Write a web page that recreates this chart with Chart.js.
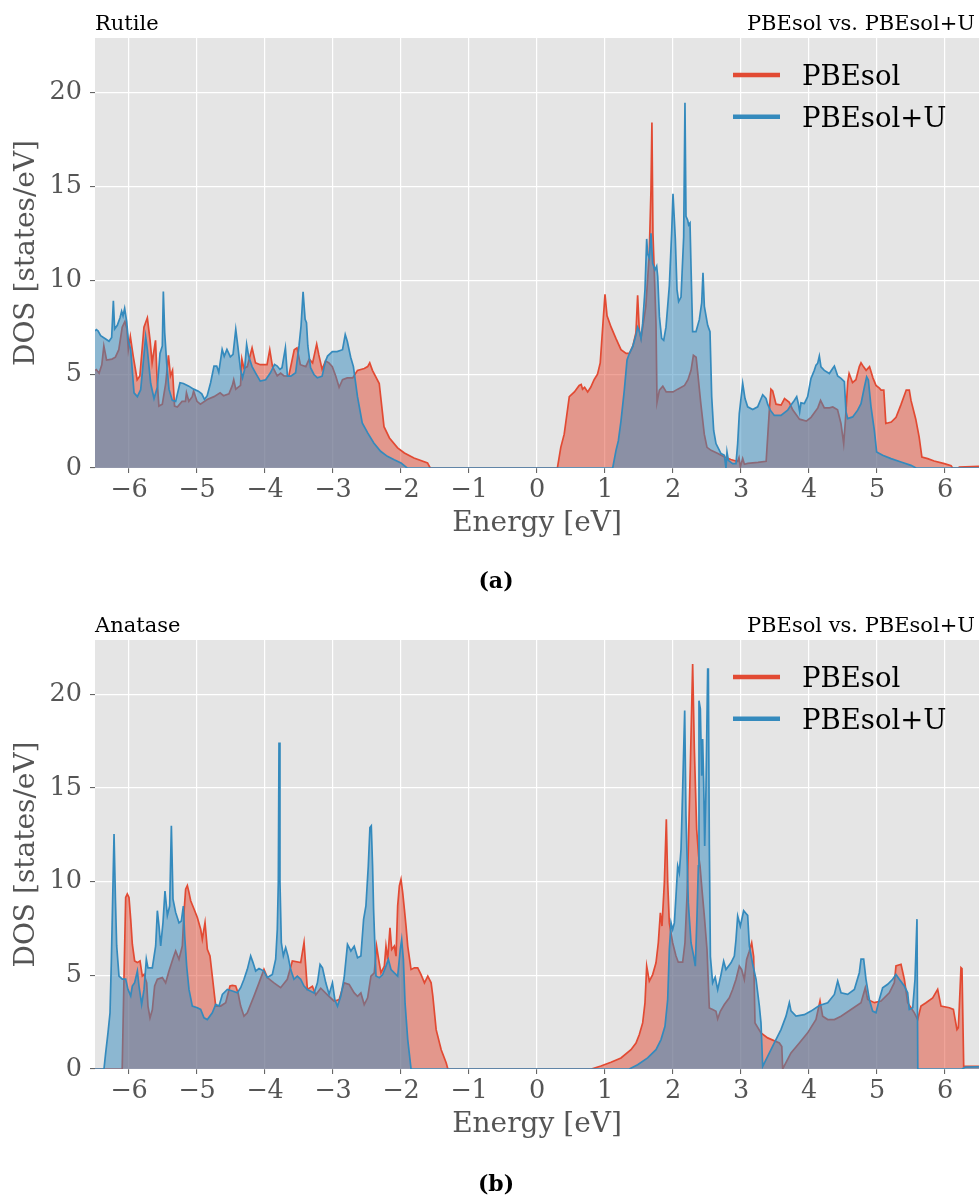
<!DOCTYPE html>
<html>
<head>
<meta charset="utf-8">
<title>TiO2 DOS: PBEsol vs. PBEsol+U</title>
<script src="https://cdn.jsdelivr.net/npm/chart.js@4.4.1/dist/chart.umd.min.js"></script>
<style>
  html, body { margin: 0; padding: 0; background: #fff; overflow: hidden; }
  canvas { display: block; }
</style>
</head>
<body>
<canvas id="rutile" width="979" height="600"></canvas>
<canvas id="anatase" width="979" height="599"></canvas>
<script>
// Axis ticks
const energyTicks = [-6, -5, -4, -3, -2, -1, 0, 1, 2, 3, 4, 5, 6];
const dosTicks = [0, 5, 10, 15, 20];

// Rutile, PBEsol  [energy (eV), DOS (states/eV)]
const rutilePbesol = [
  [-6.50, 5.2], [-6.48, 5.24], [-6.44, 5.05], [-6.40, 5.5], [-6.37, 6.5], [-6.33, 5.75],
  [-6.25, 5.8], [-6.20, 5.9], [-6.15, 6.3], [-6.10, 7.5], [-6.06, 7.8], [-6.03, 7.4],
  [-6.01, 6.3], [-5.98, 7.0], [-5.94, 6.0], [-5.88, 4.7], [-5.84, 4.9], [-5.78, 7.5],
  [-5.73, 8.0], [-5.69, 6.8], [-5.66, 5.6], [-5.61, 6.8], [-5.585, 4.6], [-5.56, 3.3],
  [-5.51, 3.4], [-5.46, 4.5], [-5.42, 6.0], [-5.39, 4.9], [-5.36, 5.2], [-5.33, 3.3],
  [-5.29, 3.25], [-5.22, 3.55], [-5.17, 3.55], [-5.155, 4.0], [-5.12, 3.55], [-5.07, 3.8],
  [-5.05, 4.1], [-5.00, 3.55], [-4.95, 3.4], [-4.85, 3.65], [-4.75, 3.8], [-4.66, 4.0],
  [-4.61, 3.85], [-4.53, 3.95], [-4.48, 4.4], [-4.46, 4.7], [-4.43, 4.2], [-4.36, 4.4],
  [-4.34, 5.8], [-4.31, 5.3], [-4.26, 5.4], [-4.19, 6.4], [-4.14, 5.6], [-4.07, 5.5],
  [-3.97, 5.5], [-3.93, 6.3], [-3.89, 5.4], [-3.82, 4.9], [-3.77, 5.05], [-3.72, 4.9],
  [-3.65, 4.9], [-3.57, 6.3], [-3.53, 6.4], [-3.48, 5.5], [-3.40, 5.4], [-3.35, 5.8],
  [-3.30, 5.6], [-3.24, 6.6], [-3.21, 6.05], [-3.16, 5.25], [-3.11, 5.7], [-3.06, 5.6],
  [-3.01, 5.4], [-2.96, 4.9], [-2.91, 4.3], [-2.86, 4.7], [-2.79, 4.8], [-2.71, 4.8],
  [-2.64, 5.2], [-2.54, 5.3], [-2.49, 5.4], [-2.46, 5.6], [-2.42, 5.2], [-2.32, 4.5],
  [-2.25, 2.2], [-2.17, 1.6], [-2.05, 1.07], [-1.95, 0.8], [-1.81, 0.53], [-1.61, 0.27],
  [-1.57, 0], [0.30, 0], [0.35, 1.1], [0.40, 1.8], [0.475, 3.8], [0.55, 4.05],
  [0.62, 4.4], [0.65, 4.45], [0.67, 4.2], [0.70, 4.3], [0.745, 4.05], [0.79, 4.3],
  [0.84, 4.7], [0.89, 5.0], [0.93, 5.6], [0.97, 7.7], [1.00, 9.25], [1.03, 8.1],
  [1.09, 7.5], [1.16, 6.9], [1.235, 6.3], [1.31, 6.1], [1.36, 6.1], [1.41, 6.5],
  [1.455, 7.2], [1.48, 9.2], [1.505, 7.3], [1.53, 6.9], [1.60, 8.6], [1.65, 11.3],
  [1.676, 14.8], [1.69, 18.4], [1.705, 12.5], [1.725, 10.4], [1.75, 7.7], [1.765, 3.5],
  [1.80, 4.15], [1.85, 4.36], [1.90, 4.05], [2.00, 4.05], [2.07, 4.2], [2.17, 4.4],
  [2.22, 4.7], [2.265, 5.2], [2.30, 6.0], [2.34, 5.9], [2.36, 5.2], [2.41, 3.4],
  [2.46, 1.8], [2.50, 1.1], [2.56, 0.94], [2.66, 0.77], [2.75, 0.6], [2.85, 0.45],
  [2.90, 0.4], [2.95, 0.35], [2.97, 0.55], [2.99, 0.05], [3.025, 0.5], [3.05, 0.2],
  [3.10, 0.25], [3.25, 0.3], [3.37, 0.36], [3.417, 3.08], [3.44, 4.2], [3.466, 4.1],
  [3.515, 3.4], [3.59, 3.35], [3.64, 3.7], [3.71, 3.5], [3.76, 3.1], [3.86, 2.6],
  [3.96, 2.5], [4.03, 2.7], [4.13, 3.2], [4.17, 3.6], [4.225, 3.2], [4.30, 3.2],
  [4.35, 3.25], [4.42, 3.1], [4.47, 2.37], [4.51, 1.3], [4.535, 2.5], [4.57, 4.6],
  [4.59, 5.03], [4.64, 4.55], [4.69, 4.7], [4.74, 5.4], [4.765, 5.6], [4.80, 5.4],
  [4.84, 5.2], [4.89, 5.4], [4.94, 4.8], [4.985, 4.4], [5.035, 4.25], [5.06, 4.15],
  [5.10, 4.15], [5.13, 2.37], [5.21, 2.45], [5.28, 2.7], [5.35, 3.35], [5.43, 4.15],
  [5.475, 4.15], [5.50, 3.6], [5.57, 2.6], [5.62, 1.65], [5.66, 0.58], [5.745, 0.5],
  [5.84, 0.37], [5.99, 0.23], [6.09, 0.12], [6.11, 0], [6.20, 0], [6.21, 0.05], [6.50, 0.09]
];

// Rutile, PBEsol+U
const rutilePbesolU = [
  [-6.50, 7.3], [-6.48, 7.37], [-6.456, 7.3], [-6.417, 7.05], [-6.343, 6.87], [-6.294, 6.75],
  [-6.255, 6.95], [-6.23, 8.9], [-6.211, 7.4], [-6.172, 7.6], [-6.132, 8.0], [-6.108, 8.35],
  [-6.088, 8.1], [-6.064, 8.5], [-6.034, 7.8], [-6.01, 6.8], [-5.975, 6.3], [-5.926, 4.0],
  [-5.877, 3.8], [-5.828, 4.17], [-5.755, 7.0], [-5.73, 6.3], [-5.681, 4.5], [-5.632, 3.7],
  [-5.583, 4.3], [-5.544, 6.1], [-5.51, 6.5], [-5.495, 9.4], [-5.475, 7.2], [-5.446, 5.6],
  [-5.412, 4.2], [-5.363, 3.6], [-5.314, 3.55], [-5.25, 4.54], [-5.20, 4.5], [-5.12, 4.36],
  [-5.05, 4.2], [-4.98, 4.09], [-4.93, 3.95], [-4.89, 3.65], [-4.85, 3.85], [-4.80, 4.54],
  [-4.75, 5.43], [-4.71, 5.43], [-4.68, 5.1], [-4.63, 6.32], [-4.60, 5.95], [-4.56, 6.32],
  [-4.51, 5.92], [-4.47, 6.05], [-4.43, 7.38], [-4.40, 6.5], [-4.36, 5.25], [-4.33, 4.8],
  [-4.30, 5.25], [-4.27, 6.58], [-4.24, 5.95], [-4.19, 5.4], [-4.14, 5.07], [-4.07, 4.63],
  [-3.99, 4.7], [-3.92, 5.07], [-3.86, 5.52], [-3.82, 5.43], [-3.78, 5.25], [-3.75, 5.34],
  [-3.70, 6.4], [-3.67, 4.89], [-3.62, 4.89], [-3.55, 5.07], [-3.50, 6.5], [-3.47, 7.56],
  [-3.44, 9.38], [-3.41, 7.92], [-3.39, 7.74], [-3.37, 6.5], [-3.33, 5.34], [-3.28, 4.98],
  [-3.23, 4.8], [-3.16, 4.89], [-3.11, 5.7], [-3.08, 5.96], [-3.01, 6.2], [-2.94, 6.2],
  [-2.86, 6.3], [-2.82, 7.1], [-2.79, 6.75], [-2.74, 5.9], [-2.70, 5.4], [-2.64, 3.8],
  [-2.57, 2.4], [-2.49, 1.87], [-2.40, 1.33], [-2.30, 0.89], [-2.20, 0.62], [-2.10, 0.44],
  [-2.00, 0.27], [-1.91, 0], [1.113, 0], [1.162, 0.94], [1.196, 1.44], [1.235, 2.5],
  [1.284, 4.15], [1.324, 5.75], [1.358, 6.1], [1.407, 6.46], [1.456, 7.1], [1.48, 7.5],
  [1.505, 7.3], [1.529, 6.9], [1.554, 7.7], [1.588, 9.5], [1.613, 12.2], [1.627, 11.4],
  [1.652, 11.2], [1.676, 12.5], [1.701, 10.9], [1.735, 10.55], [1.76, 10.75], [1.775, 10.2],
  [1.80, 8.06], [1.833, 6.9], [1.863, 6.8], [1.897, 7.5], [1.946, 9.7], [1.98, 12.5],
  [2.00, 14.6], [2.02, 13.2], [2.034, 12.2], [2.059, 9.5], [2.083, 8.86], [2.118, 9.1],
  [2.157, 12.3], [2.176, 19.45], [2.191, 13.4], [2.216, 13.2], [2.23, 12.95], [2.25, 13.05],
  [2.265, 10.7], [2.289, 7.26], [2.338, 7.26], [2.387, 7.9], [2.422, 8.8], [2.441, 10.4],
  [2.461, 8.6], [2.51, 7.6], [2.544, 7.26], [2.569, 3.8], [2.598, 2.0], [2.632, 1.3],
  [2.706, 0.77], [2.755, 0.68], [2.779, 0], [2.794, 0.85], [2.814, 0.41], [2.877, 0.23],
  [2.926, 0.23], [2.951, 1.3], [2.975, 2.9], [3.025, 4.5], [3.059, 3.7], [3.098, 3.26],
  [3.172, 3.12], [3.245, 3.26], [3.319, 3.9], [3.368, 3.7], [3.392, 3.4], [3.431, 3.08],
  [3.49, 2.8], [3.588, 2.8], [3.686, 3.08], [3.735, 3.35], [3.784, 3.6], [3.819, 3.8],
  [3.843, 3.43], [3.863, 3.0], [3.882, 3.47], [3.931, 3.43], [3.98, 3.8], [4.029, 4.77],
  [4.078, 5.2], [4.103, 5.48], [4.127, 5.57], [4.152, 5.96], [4.176, 5.39], [4.225, 5.2],
  [4.299, 5.03], [4.348, 5.3], [4.373, 5.43], [4.422, 4.9], [4.471, 4.77], [4.52, 4.6],
  [4.544, 3.0], [4.569, 2.63], [4.642, 2.72], [4.716, 3.08], [4.765, 3.43], [4.814, 4.3],
  [4.848, 4.85], [4.873, 4.68], [4.912, 3.26], [4.961, 2.0], [4.995, 0.85], [5.083, 0.68],
  [5.206, 0.5], [5.353, 0.32], [5.50, 0.14], [5.574, 0], [6.50, 0]
];

// Anatase, PBEsol
const anatasePbesol = [
  [-6.50, 0], [-6.10, 0], [-6.074, 4.79], [-6.049, 9.16], [-6.025, 9.34], [-6.00, 9.16],
  [-5.975, 8.0], [-5.951, 6.66], [-5.917, 5.77], [-5.877, 5.68], [-5.838, 5.77], [-5.804, 4.96],
  [-5.779, 5.05], [-5.74, 4.6], [-5.721, 3.36], [-5.691, 2.73], [-5.657, 3.16], [-5.623, 4.43],
  [-5.583, 4.79], [-5.51, 4.88], [-5.461, 4.6], [-5.412, 5.23], [-5.348, 5.95], [-5.314, 6.3],
  [-5.265, 5.86], [-5.216, 6.57], [-5.191, 8.36], [-5.167, 9.6], [-5.142, 9.79], [-5.118, 9.43],
  [-5.093, 8.98], [-5.044, 8.54], [-4.995, 8.09], [-4.946, 7.46], [-4.922, 6.93], [-4.882, 7.82],
  [-4.848, 6.39], [-4.809, 6.04], [-4.775, 4.96], [-4.725, 3.36], [-4.652, 3.36], [-4.578, 3.54],
  [-4.515, 4.43], [-4.48, 4.46], [-4.431, 4.43], [-4.397, 4.07], [-4.358, 3.36], [-4.309, 2.82],
  [-4.26, 3.0], [-4.162, 3.89], [-4.088, 4.6], [-4.015, 5.32], [-3.966, 4.88], [-3.868, 4.6],
  [-3.77, 4.34], [-3.672, 4.79], [-3.598, 5.77], [-3.475, 5.68], [-3.426, 6.75], [-3.377, 4.25],
  [-3.303, 4.42], [-3.254, 3.96], [-3.18, 4.31], [-3.082, 3.96], [-2.983, 3.62], [-2.909, 3.71],
  [-2.836, 4.6], [-2.762, 4.51], [-2.688, 4.06], [-2.639, 3.88], [-2.59, 4.06], [-2.541, 3.44],
  [-2.491, 3.8], [-2.442, 4.96], [-2.393, 5.13], [-2.359, 6.56], [-2.329, 5.85], [-2.295, 5.13],
  [-2.245, 5.49], [-2.221, 6.56], [-2.196, 5.85], [-2.162, 7.54], [-2.137, 6.38], [-2.098, 6.56],
  [-2.073, 6.02], [-2.049, 8.7], [-2.024, 9.77], [-2.00, 10.12], [-1.975, 9.41], [-1.95, 8.52],
  [-1.926, 7.63], [-1.901, 6.56], [-1.852, 5.31], [-1.803, 5.4], [-1.754, 5.4], [-1.705, 5.04],
  [-1.655, 4.6], [-1.606, 4.96], [-1.557, 4.6], [-1.532, 3.89], [-1.483, 2.1], [-1.409, 1.03],
  [-1.335, 0.32], [-1.311, 0], [0.80, 0], [0.94, 0.16], [1.088, 0.36], [1.235, 0.59],
  [1.382, 1.03], [1.456, 1.39], [1.505, 1.84], [1.554, 2.46], [1.588, 3.53], [1.613, 5.49],
  [1.652, 4.69], [1.701, 5.04], [1.75, 5.67], [1.784, 6.74], [1.814, 8.34], [1.838, 7.63],
  [1.873, 9.95], [1.902, 13.33], [1.922, 9.95], [1.946, 7.8], [1.995, 6.74], [2.044, 6.03],
  [2.078, 5.7], [2.142, 5.7], [2.176, 6.74], [2.206, 9.23], [2.225, 11.73], [2.255, 16.19],
  [2.289, 21.62], [2.314, 17.08], [2.348, 12.8], [2.377, 11.37], [2.397, 10.84], [2.426, 9.59],
  [2.461, 8.16], [2.50, 6.38], [2.534, 3.26], [2.583, 3.17], [2.632, 3.08], [2.657, 2.67],
  [2.696, 3.08], [2.755, 3.44], [2.828, 3.8], [2.877, 4.24], [2.926, 4.78], [2.975, 5.49],
  [3.01, 5.3], [3.049, 4.78], [3.083, 5.85], [3.122, 6.29], [3.157, 6.74], [3.186, 6.0],
  [3.206, 2.46], [3.294, 1.93], [3.392, 1.66], [3.564, 1.39], [3.60, 1.2], [3.613, 0],
  [3.735, 0.86], [3.858, 1.39], [3.98, 1.93], [4.103, 2.64], [4.162, 3.63], [4.201, 2.82],
  [4.275, 2.64], [4.373, 2.64], [4.471, 2.82], [4.618, 3.18], [4.765, 3.54], [4.828, 4.34],
  [4.863, 3.71], [4.961, 3.54], [5.059, 3.63], [5.181, 4.07], [5.255, 4.61], [5.279, 5.5],
  [5.353, 5.59], [5.402, 4.79], [5.451, 3.54], [5.549, 3.0], [5.598, 2.64], [5.647, 3.36],
  [5.721, 3.54], [5.819, 3.8], [5.892, 4.25], [5.941, 3.36], [6.064, 3.27], [6.123, 3.18],
  [6.176, 2.1], [6.196, 2.2], [6.211, 3.36], [6.235, 5.41], [6.25, 5.36], [6.275, 0.14],
  [6.50, 0.14]
];

// Anatase, PBEsol+U
const anatasePbesolU = [
  [-6.50, 0], [-6.368, 0], [-6.343, 0.86], [-6.309, 1.93], [-6.279, 3.0], [-6.26, 5.7],
  [-6.24, 9.1], [-6.22, 12.54], [-6.20, 9.1], [-6.181, 6.57], [-6.147, 4.96], [-6.098, 4.8],
  [-6.049, 4.8], [-6.015, 4.25], [-5.975, 3.9], [-5.951, 4.43], [-5.917, 4.61], [-5.877, 5.23],
  [-5.853, 4.43], [-5.814, 3.45], [-5.779, 4.25], [-5.745, 5.86], [-5.721, 5.4], [-5.657, 5.4],
  [-5.608, 6.57], [-5.583, 8.45], [-5.559, 7.64], [-5.534, 6.57], [-5.50, 7.82], [-5.471, 9.5],
  [-5.436, 8.2], [-5.402, 8.7], [-5.377, 12.98], [-5.353, 9.07], [-5.314, 8.36], [-5.265, 7.8],
  [-5.23, 7.9], [-5.201, 8.7], [-5.181, 7.1], [-5.152, 5.5], [-5.118, 4.25], [-5.069, 3.36],
  [-4.995, 3.27], [-4.946, 3.18], [-4.897, 2.73], [-4.848, 2.64], [-4.775, 3.0], [-4.725, 3.45],
  [-4.676, 3.36], [-4.627, 3.98], [-4.554, 4.25], [-4.48, 4.16], [-4.407, 4.07], [-4.358, 4.34],
  [-4.309, 4.79], [-4.26, 5.32], [-4.211, 6.04], [-4.176, 5.68], [-4.137, 5.23], [-4.088, 5.36],
  [-4.015, 5.23], [-3.966, 4.88], [-3.892, 5.05], [-3.843, 5.86], [-3.819, 7.46], [-3.804, 10.0],
  [-3.794, 17.43], [-3.78, 10.0], [-3.76, 6.75], [-3.73, 6.04], [-3.696, 6.48], [-3.662, 6.04],
  [-3.623, 5.32], [-3.574, 4.79], [-3.525, 4.96], [-3.475, 4.79], [-3.426, 4.43], [-3.377, 4.24],
  [-3.278, 4.06], [-3.229, 4.6], [-3.19, 5.58], [-3.155, 5.4], [-3.106, 4.6], [-3.057, 3.98],
  [-3.008, 4.6], [-2.973, 3.7], [-2.934, 3.35], [-2.885, 3.9], [-2.836, 4.87], [-2.787, 6.65],
  [-2.737, 6.3], [-2.688, 6.56], [-2.639, 5.94], [-2.59, 6.03], [-2.55, 7.99], [-2.516, 8.7],
  [-2.481, 10.84], [-2.457, 12.89], [-2.437, 12.98], [-2.418, 10.84], [-2.403, 8.5], [-2.368, 4.96],
  [-2.319, 4.87], [-2.27, 5.04], [-2.221, 5.49], [-2.186, 5.85], [-2.147, 5.31], [-2.098, 5.13],
  [-2.049, 4.96], [-2.01, 6.4], [-1.99, 6.9], [-1.965, 5.85], [-1.94, 3.5], [-1.901, 1.57],
  [-1.852, 0], [1.358, 0], [1.48, 0.23], [1.627, 0.59], [1.75, 1.03], [1.824, 1.57],
  [1.882, 2.28], [1.922, 3.71], [1.946, 6.38], [1.971, 7.8], [1.995, 7.45], [2.02, 7.8],
  [2.044, 9.23], [2.069, 10.84], [2.093, 10.48], [2.118, 11.73], [2.142, 14.94], [2.172, 19.13],
  [2.191, 13.51], [2.225, 8.88], [2.265, 6.74], [2.304, 6.03], [2.328, 5.49], [2.353, 8.16],
  [2.373, 10.84], [2.382, 19.66], [2.402, 19.22], [2.422, 15.65], [2.436, 17.61], [2.451, 15.29],
  [2.466, 11.91], [2.485, 14.94], [2.51, 21.35], [2.52, 21.35], [2.534, 12.0], [2.55, 6.0],
  [2.583, 4.6], [2.62, 4.9], [2.657, 4.24], [2.706, 5.04], [2.745, 5.76], [2.779, 5.31],
  [2.853, 5.67], [2.902, 6.03], [2.926, 6.9], [2.951, 8.16], [2.99, 7.63], [3.039, 8.45],
  [3.074, 8.3], [3.098, 8.2], [3.123, 6.57], [3.172, 5.59], [3.221, 4.79], [3.27, 3.36],
  [3.294, 2.46], [3.319, 0.14], [3.392, 0.68], [3.49, 1.39], [3.588, 2.1], [3.662, 2.82],
  [3.711, 3.54], [3.735, 3.1], [3.809, 2.82], [3.931, 2.9], [4.029, 3.09], [4.152, 3.39],
  [4.275, 3.54], [4.373, 3.98], [4.422, 4.7], [4.471, 4.07], [4.569, 3.98], [4.667, 4.25],
  [4.74, 5.14], [4.765, 5.86], [4.804, 5.86], [4.838, 4.79], [4.887, 3.71], [4.936, 3.09],
  [4.985, 3.0], [5.034, 3.71], [5.083, 4.34], [5.157, 4.52], [5.23, 4.79], [5.279, 5.05],
  [5.328, 4.79], [5.402, 4.43], [5.451, 4.07], [5.475, 3.18], [5.525, 3.27], [5.559, 4.79],
  [5.588, 8.0], [5.60, 0], [6.25, 0], [6.30, 0.1], [6.50, 0.12]
];

const SERIF = "'DejaVu Serif', 'Liberation Serif', serif";
const RED = '#E24A33';
const BLUE = '#348ABD';
const RED_FILL = 'rgba(226, 74, 51, 0.5)';
const BLUE_FILL = 'rgba(52, 138, 189, 0.5)';

Chart.defaults.font.family = SERIF;

// grey ggplot-style panel behind the grid
const plotBackground = {
  id: 'plotBackground',
  beforeDraw(chart) {
    const { ctx, chartArea: a } = chart;
    ctx.save();
    ctx.fillStyle = '#E5E5E5';
    ctx.fillRect(a.left, a.top, a.width, a.height);
    ctx.restore();
  }
};

// panel titles, in-axes legend and the (a)/(b) caption
const panelText = {
  id: 'panelText',
  afterDraw(chart, args, opts) {
    const { ctx, chartArea: a } = chart;
    ctx.save();
    ctx.fillStyle = '#000';
    ctx.textBaseline = 'alphabetic';
    ctx.font = `21px ${SERIF}`;
    ctx.textAlign = 'left';
    ctx.fillText(opts.name, a.left, a.top - 8.5);
    ctx.textAlign = 'right';
    ctx.fillText(opts.subtitle, a.right - 4, a.top - 8.5);

    ctx.font = `27.5px ${SERIF}`;
    ctx.textAlign = 'left';
    chart.data.datasets.forEach((ds, i) => {
      const y = a.top + 37 + i * 41.7;
      ctx.strokeStyle = ds.borderColor;
      ctx.lineWidth = 4.5;
      ctx.beginPath();
      ctx.moveTo(a.right - 246, y);
      ctx.lineTo(a.right - 199, y);
      ctx.stroke();
      ctx.fillText(ds.label, a.right - 177, y + 10);
    });

    ctx.font = `bold 22px ${SERIF}`;
    ctx.textAlign = 'center';
    ctx.textBaseline = 'middle';
    ctx.fillText(opts.caption, 496, opts.captionY);
    ctx.restore();
  }
};

const toPoints = rows => rows.map(([x, y]) => ({ x, y }));
const minusSign = v => (v < 0 ? '\u2212' + Math.abs(v) : String(v));

function makePanel(id, name, caption, captionY, padTop, padBottom, pbesol, pbesolU) {
  return new Chart(document.getElementById(id), {
    type: 'line',
    data: {
      datasets: [
        {
          label: 'PBEsol',
          data: toPoints(pbesol),
          borderColor: RED,
          backgroundColor: RED_FILL,
          fill: 'origin',
          order: 1
        },
        {
          label: 'PBEsol+U',
          data: toPoints(pbesolU),
          borderColor: BLUE,
          backgroundColor: BLUE_FILL,
          fill: 'origin',
          order: 0
        }
      ]
    },
    options: {
      responsive: false,
      animation: false,
      layout: { padding: { top: padTop, bottom: padBottom, left: 0, right: 0 } },
      elements: {
        point: { radius: 0 },
        line: { borderWidth: 1.7, tension: 0 }
      },
      plugins: {
        legend: { display: false },
        tooltip: { enabled: false },
        panelText: { name, subtitle: 'PBEsol vs. PBEsol+U', caption, captionY }
      },
      scales: {
        x: {
          type: 'linear',
          position: 'bottom',
          min: -6.5,
          max: 6.5,
          afterBuildTicks: s => { s.ticks = energyTicks.map(v => ({ value: v })); },
          afterFit: s => { s.height = 80; },
          ticks: {
            callback: minusSign,
            color: '#555',
            font: { size: 25.5 },
            padding: 2,
            maxRotation: 0,
            autoSkip: false
          },
          grid: { color: '#FFFFFF', lineWidth: 1.2, tickColor: '#555', tickLength: 5, tickWidth: 1 },
          border: { display: false },
          title: {
            display: true,
            text: 'Energy [eV]',
            color: '#555',
            font: { size: 28 },
            padding: { top: 0, bottom: 7.5 }
          }
        },
        y: {
          position: 'left',
          min: 0,
          max: 22.9,
          afterBuildTicks: s => { s.ticks = dosTicks.map(v => ({ value: v })); },
          afterFit: s => { s.width = 95; },
          ticks: {
            color: '#555',
            font: { size: 25.5 },
            padding: 8
          },
          grid: { color: '#FFFFFF', lineWidth: 1.2, tickColor: '#555', tickLength: 5, tickWidth: 1 },
          border: { display: false },
          title: {
            display: true,
            text: 'DOS [states/eV]',
            color: '#555',
            font: { size: 28 },
            padding: { top: 10, bottom: 0 }
          }
        }
      }
    },
    plugins: [plotBackground, panelText]
  });
}

makePanel('rutile', 'Rutile', '(a)', 582, 38, 52, rutilePbesol, rutilePbesolU);
makePanel('anatase', 'Anatase', '(b)', 585, 40, 50, anatasePbesol, anatasePbesolU);
</script>
</body>
</html>
